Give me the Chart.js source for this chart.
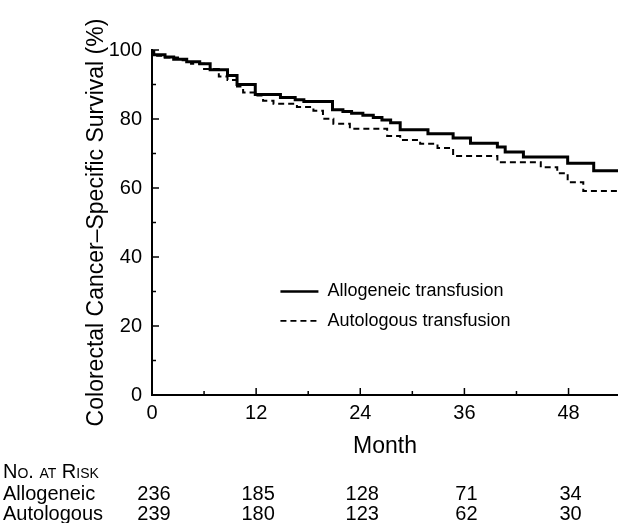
<!DOCTYPE html>
<html>
<head>
<meta charset="utf-8">
<script src="https://cdn.jsdelivr.net/npm/chart.js@4"></script>
<style>
  html, body { margin: 0; padding: 0; background: #fff; }
  #wrap { width: 618px; height: 523px; position: relative; }
</style>
</head>
<body>
<div id="wrap"><canvas id="km"></canvas></div>
<script>
// Kaplan-Meier steps (month, survival %)
const allogeneicMonths = [0, 0.2, 1.5, 2.5, 4, 5.5, 6.7, 8.7, 9.8, 11.9, 14.8, 16.5, 17.5, 20.8, 22, 23, 24.3, 25.5, 26.5, 27.5, 28.6, 31.8, 34.7, 36.7, 39.8, 40.7, 42.8, 47.9, 50.9, 53.7];
const allogeneicSurvival = [100, 98.6, 98.0, 97.3, 96.6, 96.0, 94.3, 92.6, 90.0, 87.1, 86.2, 85.6, 85.1, 82.7, 82.2, 81.7, 81.1, 80.4, 79.7, 78.9, 76.9, 75.7, 74.5, 73.0, 71.9, 70.4, 69.0, 67.2, 65.0, 65.0];

const autologousMonths = [0, 0.2, 1.5, 3, 4.5, 6, 7.7, 8.7, 9.8, 10.5, 11.9, 12.8, 14, 16.7, 18.6, 19.7, 20.9, 22.8, 27.1, 28.6, 30.9, 32.9, 34.7, 39.8, 44.8, 46.7, 47.9, 49.7, 53.7];
const autologousSurvival = [100, 98.3, 97.8, 97.0, 96.0, 94.5, 92.3, 91.3, 89.4, 87.7, 86.8, 85.3, 84.4, 83.5, 82.4, 80.1, 78.6, 77.2, 75.1, 73.9, 72.8, 71.6, 69.3, 67.5, 66.0, 64.3, 61.7, 59.1, 59.1];

const seriesNames = ["Allogeneic transfusion", "Autologous transfusion"];

// axis ticks
const xTicks = [0, 12, 24, 36, 48];
const xMarks = [0, 6, 12, 18, 24, 30, 36, 42, 48];
const yTicks = [0, 20, 40, 60, 80, 100];
const yMarks = [0, 10, 20, 30, 40, 50, 60, 70, 80, 90, 100];

// number at risk table
const riskMonths = [0, 12, 24, 36, 48];
const riskRows = ["Allogeneic", "Autologous"];
const allogeneicAtRisk = [236, 185, 128, 71, 34];
const autologousAtRisk = [239, 180, 123, 62, 30];

const FONT = "'Liberation Sans', Arial, Helvetica, sans-serif";

const toPoints = (xs, ys) => xs.map((m, i) => ({ x: m, y: ys[i] }));

// tick marks drawn inward, long at labelled values
const axisMarks = {
  id: "axisMarks",
  afterDraw(chart) {
    const { ctx, scales: { x, y } } = chart;
    ctx.save();
    ctx.strokeStyle = "#000";
    ctx.lineWidth = 1.5;
    yMarks.forEach((v) => {
      const p = y.getPixelForValue(v);
      const len = yTicks.includes(v) ? 7 : 4;
      ctx.beginPath();
      ctx.moveTo(x.left, p);
      ctx.lineTo(x.left + len, p);
      ctx.stroke();
    });
    xMarks.forEach((v) => {
      const p = x.getPixelForValue(v);
      const len = xTicks.includes(v) ? 7 : 4;
      ctx.beginPath();
      ctx.moveTo(p, y.bottom);
      ctx.lineTo(p, y.bottom - len);
      ctx.stroke();
    });
    ctx.restore();
  },
};

// legend placed inside the plot
const innerLegend = {
  id: "innerLegend",
  afterDraw(chart) {
    const { ctx, scales: { x, y } } = chart;
    const x0 = x.getPixelForValue(14.8);
    const rowsAt = [30, 21.5];
    ctx.save();
    ctx.font = "18px " + FONT;
    ctx.textBaseline = "middle";
    ctx.fillStyle = "#000";
    chart.data.datasets.forEach((ds, i) => {
      const py = y.getPixelForValue(rowsAt[i]);
      ctx.strokeStyle = "#000";
      ctx.lineWidth = ds.borderWidth === 3 ? 2.5 : 1.8;
      ctx.setLineDash(ds.borderDash || []);
      ctx.beginPath();
      ctx.moveTo(x0, py);
      ctx.lineTo(x0 + 38, py);
      ctx.stroke();
      ctx.setLineDash([]);
      ctx.fillText(ds.label, x0 + 47, py);
    });
    ctx.restore();
  },
};

// "No. at Risk" table under the x axis
const riskTable = {
  id: "riskTable",
  afterDraw(chart) {
    const { ctx, scales: { x } } = chart;
    const rowsY = [494, 514];
    const counts = [allogeneicAtRisk, autologousAtRisk];
    ctx.save();
    ctx.fillStyle = "#000";
    ctx.textBaseline = "middle";
    ctx.font = "20px " + FONT;
    ctx.textAlign = "left";
    if ("fontVariantCaps" in ctx) ctx.fontVariantCaps = "small-caps";
    ctx.fillText("No. at Risk", 3, 472);
    if ("fontVariantCaps" in ctx) ctx.fontVariantCaps = "normal";
    riskRows.forEach((name, r) => {
      ctx.textAlign = "left";
      ctx.fillText(name, 3, rowsY[r]);
      ctx.textAlign = "center";
      counts[r].forEach((n, i) => {
        ctx.fillText(String(n), x.getPixelForValue(riskMonths[i]) + 2, rowsY[r]);
      });
    });
    ctx.restore();
  },
};

const ctx = document.getElementById("km").getContext("2d");
new Chart(ctx, {
  type: "line",
  data: {
    datasets: [
      {
        label: seriesNames[0],
        data: toPoints(allogeneicMonths, allogeneicSurvival),
        borderColor: "#000",
        borderWidth: 3,
        stepped: true,
        pointRadius: 0,
        fill: false,
      },
      {
        label: seriesNames[1],
        data: toPoints(autologousMonths, autologousSurvival),
        borderColor: "#000",
        borderWidth: 2,
        borderDash: [6, 4],
        stepped: true,
        pointRadius: 0,
        fill: false,
      },
    ],
  },
  options: {
    responsive: true,
    maintainAspectRatio: false,
    animation: false,
    layout: { padding: { left: 79, right: 0, top: 50, bottom: 57 } },
    plugins: {
      legend: { display: false },
      tooltip: { enabled: false },
    },
    scales: {
      x: {
        type: "linear",
        min: 0,
        max: 53.7,
        afterBuildTicks: (scale) => {
          scale.ticks = xTicks.map((v) => ({ value: v }));
        },
        afterFit: (scale) => { scale.height = 71; },
        grid: { display: false, drawTicks: false },
        border: { display: true, color: "#000", width: 2 },
        ticks: {
          color: "#000",
          padding: 6,
          maxRotation: 0,
          autoSkip: false,
          font: { family: FONT, size: 20 },
        },
        title: {
          display: true,
          text: "Month",
          color: "#000",
          padding: { top: 0, bottom: 6 },
          font: { family: FONT, size: 23 },
        },
      },
      y: {
        min: 0,
        max: 100,
        afterBuildTicks: (scale) => {
          scale.ticks = yTicks.map((v) => ({ value: v }));
        },
        afterFit: (scale) => { scale.width = 73; },
        grid: { display: false, drawTicks: false },
        border: { display: true, color: "#000", width: 2 },
        ticks: {
          color: "#000",
          padding: 10,
          font: { family: FONT, size: 20 },
        },
        title: {
          display: true,
          text: "Colorectal Cancer\u2013Specific Survival (%)",
          color: "#000",
          padding: { top: 4, bottom: 0 },
          font: { family: FONT, size: 23 },
        },
      },
    },
  },
  plugins: [axisMarks, innerLegend, riskTable],
});
</script>
</body>
</html>
